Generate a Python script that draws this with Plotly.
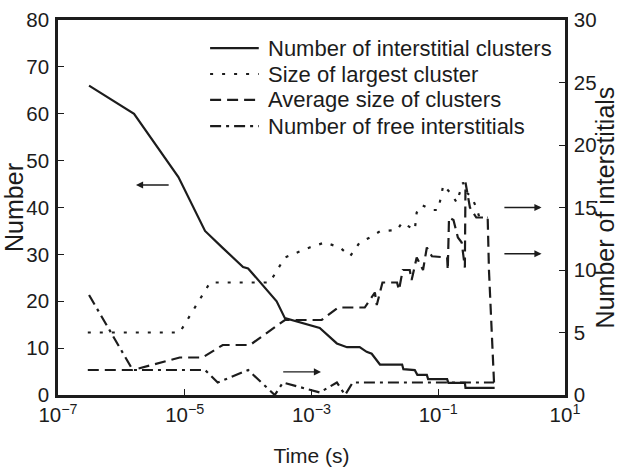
import plotly.graph_objects as go

# ---- data (time in log10 seconds) ----
clusters_logt = [-6.51, -5.80, -5.10, -4.68, -4.41, -4.08, -4.00, -3.55, -3.42, -2.87, -2.60,
                 -2.44, -2.24, -2.13, -2.05, -1.92, -1.57, -1.55, -1.37, -1.33, -1.18, -1.16,
                 -0.86, -0.84, -0.58, -0.57, -0.11]
clusters_val = [66, 60, 46.5, 35, 31.5, 27.3, 27, 20, 16.4, 14.3, 11,
                10.2, 10.2, 9.2, 8.8, 6.5, 6.5, 5.5, 5.3, 4.3, 4.3, 3.4,
                3.4, 2.6, 2.6, 1.5, 1.5]

largest_logt = [-6.53, -5.08, -4.60, -3.66, -3.42, -3.03, -2.79, -2.55, -2.39, -2.24, -2.08,
                -1.92, -1.65, -1.57, -1.37, -1.34, -1.26, -1.10, -1.00, -0.94, -0.92, -0.78,
                -0.71, -0.61, -0.55, -0.47, -0.40, -0.35, -0.22]
largest_val = [5, 5, 9, 9, 11, 11.8, 12.2, 11.8, 11.1, 12.2, 12.6,
               13.1, 13.2, 13.8, 13.2, 14.6, 15.2, 14.8, 14.8, 16.2, 16.8, 16,
               15.4, 17, 16.2, 15.8, 15, 14.2, 14.2]

average_logt = [-6.53, -5.82, -5.08, -4.72, -4.40, -3.97, -3.42, -2.84, -2.58, -2.16, -2.00,
                -1.97, -1.88, -1.65, -1.62, -1.56, -1.45, -1.42, -1.34, -1.24, -1.18, -1.10,
                -0.86, -0.85, -0.83, -0.76, -0.69, -0.63, -0.58, -0.57, -0.50, -0.40, -0.22,
                -0.20, -0.12]
average_val = [2, 2, 3, 3, 4, 4, 6, 6, 7, 7, 8.2,
               7.2, 9, 9, 8.4, 10, 10, 9.2, 11, 10, 11.8, 11.1,
               11, 10, 14.2, 14, 12.6, 12.2, 10.2, 17, 15, 14.2, 14.2,
               10, 1]

free_logt = [-6.51, -5.82, -4.68, -4.48, -4.00, -3.58, -3.45, -2.87, -2.60, -2.47, -2.35, -0.12]
free_val = [8, 2, 2, 1, 2, 0, 1, 0.2, 1, 0, 1, 1]

series_names = ["Number of interstitial clusters", "Size of largest cluster",
                "Average size of clusters", "Number of free interstitials"]

xtick_vals = [-7, -5, -3, -1, 1]
xtick_text = ["10<sup>−7</sup>", "10<sup>−5</sup>", "10<sup>−3</sup>", "10<sup>−1</sup>", "10<sup>1</sup>"]
ytick_left = [0, 10, 20, 30, 40, 50, 60, 70, 80]
ytick_right = [0, 5, 10, 15, 20, 25, 30]

to_t = lambda arr: [10 ** v for v in arr]

INK = "#1c1c1c"
FONT = "Liberation Sans, Arial, Helvetica, sans-serif"
FS = 20.5
LEG_FS = 22
dashes = ["solid", "3px,9px", "11px,6px", "11px,5px,3px,5px"]

fig = go.Figure()
fig.add_trace(go.Scatter(x=to_t(clusters_logt), y=clusters_val, mode="lines",
                         name=series_names[0], line=dict(color=INK, width=2.2, dash=dashes[0])))
fig.add_trace(go.Scatter(x=to_t(largest_logt), y=largest_val, mode="lines", yaxis="y2",
                         name=series_names[1], line=dict(color=INK, width=2.2, dash=dashes[1])))
fig.add_trace(go.Scatter(x=to_t(average_logt), y=average_val, mode="lines", yaxis="y2",
                         name=series_names[2], line=dict(color=INK, width=2.2, dash=dashes[2])))
fig.add_trace(go.Scatter(x=to_t(free_logt), y=free_val, mode="lines", yaxis="y2",
                         name=series_names[3], line=dict(color=INK, width=2.2, dash=dashes[3])))

# legend drawn as line samples + labels (paper coordinates)
leg_y = [0.925, 0.856, 0.787, 0.717]
for name, dash, yy in zip(series_names, dashes, leg_y):
    fig.add_shape(type="line", xref="paper", yref="paper", x0=0.300, x1=0.396, y0=yy, y1=yy,
                  line=dict(color=INK, width=2.2, dash=dash))
    fig.add_annotation(xref="paper", yref="paper", x=0.410, y=yy, text=name, showarrow=False,
                       xanchor="left", yanchor="middle", font=dict(size=LEG_FS, color=INK))

arrows = [
    dict(x=-5.77, y=44.8, ax=-5.23, ay=44.8, yref="y", ayref="y"),
    dict(x=0.63, y=15.0, ax=0.02, ay=15.0, yref="y2", ayref="y2"),
    dict(x=0.63, y=11.3, ax=0.02, ay=11.3, yref="y2", ayref="y2"),
    dict(x=-2.85, y=1.85, ax=-3.47, ay=1.85, yref="y2", ayref="y2"),
]
for a in arrows:
    fig.add_annotation(x=a["x"], y=a["y"], ax=a["ax"], ay=a["ay"], xref="x", axref="x",
                       yref=a["yref"], ayref=a["ayref"], text="", showarrow=True,
                       arrowhead=2, arrowsize=1.1, arrowwidth=1.3, arrowcolor=INK)

fig.update_layout(
    width=619, height=470,
    margin=dict(l=58, r=54, t=20, b=75),
    paper_bgcolor="white", plot_bgcolor="white",
    font=dict(family=FONT, size=FS, color=INK),
    showlegend=False,
    xaxis=dict(type="log", range=[-7, 1], tickvals=to_t(xtick_vals), ticktext=xtick_text,
               ticks="inside", ticklen=6, tickwidth=1, tickcolor=INK,
               showline=True, linecolor=INK, linewidth=2.5, mirror=True,
               showgrid=False, zeroline=False, automargin=False,
               title=dict(text="Time (s)", standoff=23, font=dict(size=21))),
    yaxis=dict(range=[0, 80], tickvals=ytick_left, ticks="inside", ticklen=6, tickwidth=1,
               tickcolor=INK, showline=True, linecolor=INK, linewidth=2.5,
               showgrid=False, zeroline=False, ticklabelstandoff=2, automargin=False,
               title=dict(text="Number", standoff=6)),
    yaxis2=dict(range=[0, 30], tickvals=ytick_right, overlaying="y", side="right",
                ticks="inside", ticklen=6, tickwidth=1, tickcolor=INK,
                showline=True, linecolor=INK, linewidth=2.5,
                showgrid=False, zeroline=False, ticklabelstandoff=2, automargin=False,
                title=dict(text="Number of interstitials", standoff=6)),
)

fig.write_html("out.html")
